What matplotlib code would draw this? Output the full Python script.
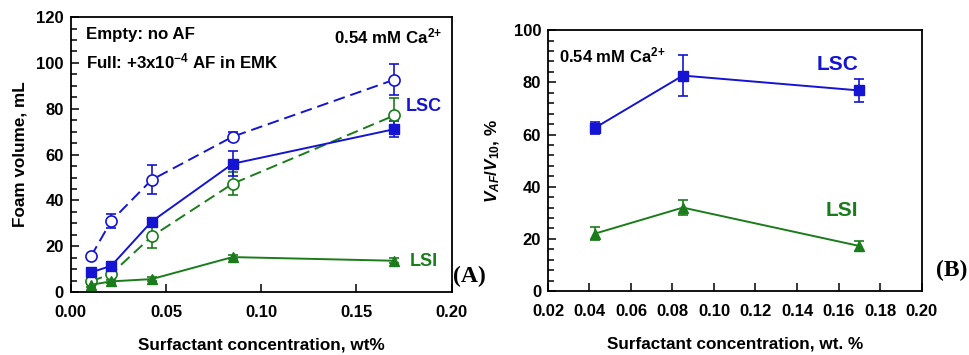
"""Foam volume and V_AF/V_10 vs surfactant concentration"""
import matplotlib
matplotlib.use('Agg')
import matplotlib.pyplot as plt
from matplotlib.ticker import MultipleLocator

plt.rcParams['font.family'] = ['Liberation Sans', 'DejaVu Sans']
plt.rcParams['font.weight'] = 'bold'
plt.rcParams['axes.labelweight'] = 'bold'
plt.rcParams['mathtext.fontset'] = 'custom'
plt.rcParams['mathtext.rm'] = 'Liberation Sans:bold'
plt.rcParams['mathtext.bf'] = 'Liberation Sans:bold'
plt.rcParams['mathtext.it'] = 'Liberation Sans:bold:italic'
plt.rcParams['mathtext.bfit'] = 'Liberation Sans:bold:italic'

blue = '#1414d2'
green = '#1a7c1a'

# panel A data
conc = [0.0106, 0.0213, 0.0425, 0.085, 0.17]
lsc_empty = [15.6, 31.1, 49.0, 67.8, 92.7]
lsc_empty_err = [1.0, 3.0, 6.3, 2.0, 6.7]
lsc_full = [8.6, 11.5, 30.8, 56.0, 71.1]
lsc_full_err = [1.0, 1.0, 1.2, 5.4, 3.5]
lsi_empty = [4.7, 8.0, 24.3, 47.3, 77.1]
lsi_empty_err = [1.0, 1.5, 5.0, 5.0, 7.7]
lsi_full = [3.2, 4.7, 5.7, 15.3, 13.7]
lsi_full_err = [0.8, 0.8, 0.8, 1.0, 1.0]

# panel B data
conc_b = [0.0425, 0.085, 0.17]
lsc_ratio = [62.5, 82.6, 76.9]
lsc_ratio_err = [2.2, 8.0, 4.5]
lsi_ratio = [22.0, 32.0, 17.3]
lsi_ratio_err = [2.4, 3.0, 2.0]

fig = plt.figure(figsize=(9.69, 3.55), dpi=100)
ax1 = fig.add_axes([0.073, 0.177, 0.393, 0.775])
ax2 = fig.add_axes([0.5655, 0.180, 0.3855, 0.735])

eb = dict(capsize=3.5, elinewidth=1.2, capthick=1.2, lw=1.4)

ax1.errorbar(conc, lsc_empty, yerr=lsc_empty_err, color=blue, marker='o', ms=8,
             mfc='white', mec=blue, mew=1.2, linestyle=(0, (6, 3)), **eb)
ax1.errorbar(conc, lsi_empty, yerr=lsi_empty_err, color=green, marker='o', ms=8,
             mfc='white', mec=green, mew=1.2, linestyle=(0, (6, 3)), **eb)
ax1.errorbar(conc, lsc_full, yerr=lsc_full_err, color=blue, marker='s', ms=7,
             linestyle='-', **eb)
ax1.errorbar(conc, lsi_full, yerr=lsi_full_err, color=green, marker='^', ms=7.5,
             linestyle='-', **eb)

ax1.set_xlim(0, 0.2)
ax1.set_ylim(0, 120)
ax1.xaxis.set_major_locator(MultipleLocator(0.05))
ax1.xaxis.set_major_formatter(plt.FormatStrFormatter('%.2f'))
ax1.yaxis.set_major_locator(MultipleLocator(20))
ax1.yaxis.set_minor_locator(MultipleLocator(5))
ax1.set_xlabel('Surfactant concentration, wt%', fontsize=12.3, labelpad=13)
ax1.set_ylabel('Foam volume, mL', fontsize=12.3, labelpad=6)

ax1.text(0.04, 0.965, 'Empty: no AF', transform=ax1.transAxes, fontsize=12.2,
         fontweight='bold', va='top')
ax1.text(0.04, 0.875, r'Full: +3x10$^{{-}4}$ AF in EMK', transform=ax1.transAxes,
         fontsize=12.2, fontweight='bold', va='top')
ax1.text(0.975, 0.965, r'0.54 mM Ca$^{2{+}}$', transform=ax1.transAxes,
         fontsize=12.2, fontweight='bold', va='top', ha='right')
ax1.text(0.176, 81, 'LSC', color=blue, fontsize=13, fontweight='bold', va='center')
ax1.text(0.178, 13.5, 'LSI', color=green, fontsize=13, fontweight='bold', va='center')
ax1.text(1.005, 0.02, '(A)', transform=ax1.transAxes, fontsize=17,
         fontweight='bold', family='Liberation Serif', va='bottom')

ax2.errorbar(conc_b, lsc_ratio, yerr=lsc_ratio_err, color=blue, marker='s', ms=7,
             linestyle='-', **eb)
ax2.errorbar(conc_b, lsi_ratio, yerr=lsi_ratio_err, color=green, marker='^', ms=7.5,
             linestyle='-', **eb)

ax2.set_xlim(0.02, 0.2)
ax2.set_ylim(0, 100)
ax2.xaxis.set_major_locator(MultipleLocator(0.02))
ax2.xaxis.set_major_formatter(plt.FormatStrFormatter('%.2f'))
ax2.yaxis.set_major_locator(MultipleLocator(20))
ax2.yaxis.set_minor_locator(MultipleLocator(4))
ax2.set_xlabel('Surfactant concentration, wt. %', fontsize=12.3, labelpad=13)
ax2.set_ylabel(r'$\mathit{V}_{AF}$/$\mathit{V}_{10}$, %', fontsize=12.3, labelpad=8)

ax2.text(0.03, 0.94, r'0.54 mM Ca$^{2{+}}$', transform=ax2.transAxes,
         fontsize=12, fontweight='bold', va='top')
ax2.text(0.1495, 87, 'LSC', color=blue, fontsize=15, fontweight='bold', va='center')
ax2.text(0.154, 31, 'LSI', color=green, fontsize=15, fontweight='bold', va='center')
ax2.text(1.04, 0.04, '(B)', transform=ax2.transAxes, fontsize=17,
         fontweight='bold', family='Liberation Serif', va='bottom')

for ax in (ax1, ax2):
    for s in ax.spines.values():
        s.set_linewidth(1.3)
    ax.tick_params(which='both', direction='in', top=False, right=False,
                   labelsize=12, width=1.1)
    ax.tick_params(which='major', length=6)
    ax.tick_params(axis='x', which='major', pad=9)
    ax.tick_params(axis='y', which='major', pad=5)
    ax.tick_params(which='minor', length=4)
    for lab in ax.get_xticklabels() + ax.get_yticklabels():
        lab.set_fontweight('bold')

fig.savefig('out.png', dpi=100)
